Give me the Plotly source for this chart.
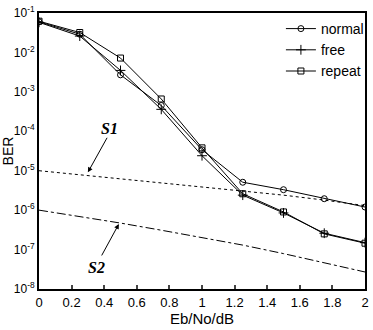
import plotly.graph_objects as go

x = [0, 0.25, 0.5, 0.75, 1.0, 1.25, 1.5, 1.75, 2.0]
normal = [6.0e-2, 2.9e-2, 2.7e-3, 4.5e-4, 3.4e-5, 5.1e-6, 3.3e-6, 1.95e-6, 1.2e-6]
free = [5.8e-2, 2.6e-2, 3.5e-3, 3.6e-4, 2.4e-5, 2.4e-6, 8.5e-7, 2.6e-7, 1.5e-7]
repeat = [6.2e-2, 3.2e-2, 7.2e-3, 6.6e-4, 3.8e-5, 2.6e-6, 9.0e-7, 2.5e-7, 1.45e-7]
s1 = [1.0e-5, 7.9e-6, 6.3e-6, 5.0e-6, 4.0e-6, 3.1e-6, 2.4e-6, 1.8e-6, 1.3e-6]
s2 = [1.0e-6, 6.9e-7, 4.7e-7, 3.1e-7, 2.0e-7, 1.3e-7, 7.9e-8, 4.7e-8, 2.7e-8]
ytick_vals = [1e-8, 1e-7, 1e-6, 1e-5, 1e-4, 1e-3, 1e-2, 1e-1]
ytick_text = ["10<sup>-8</sup>", "10<sup>-7</sup>", "10<sup>-6</sup>", "10<sup>-5</sup>",
              "10<sup>-4</sup>", "10<sup>-3</sup>", "10<sup>-2</sup>", "10<sup>-1</sup>"]
xtick_vals = [0, 0.2, 0.4, 0.6, 0.8, 1.0, 1.2, 1.4, 1.6, 1.8, 2.0]
xtick_text = ["0", "0.2", "0.4", "0.6", "0.8", "1", "1.2", "1.4", "1.6", "1.8", "2"]

fig = go.Figure()
fig.add_trace(go.Scatter(x=x, y=s1, mode="lines", showlegend=False,
                         line=dict(color="black", width=1, dash="dot")))
fig.add_trace(go.Scatter(x=x, y=s2, mode="lines", showlegend=False,
                         line=dict(color="black", width=1, dash="dashdot")))
fig.add_trace(go.Scatter(x=x, y=normal, name="normal", mode="lines+markers",
                         line=dict(color="black", width=1),
                         marker=dict(symbol="circle-open", size=6, color="black",
                                     line=dict(width=1, color="black"))))
fig.add_trace(go.Scatter(x=x, y=free, name="free", mode="lines+markers",
                         line=dict(color="black", width=1),
                         marker=dict(symbol="cross-thin", size=7, color="black",
                                     line=dict(width=1, color="black"))))
fig.add_trace(go.Scatter(x=x, y=repeat, name="repeat", mode="lines+markers",
                         line=dict(color="black", width=1),
                         marker=dict(symbol="square-open", size=6, color="black",
                                     line=dict(width=1, color="black"))))

fig.add_annotation(x=0.3, y=-5.04, xref="x", yref="y", text="", showarrow=True,
                   arrowhead=2, arrowsize=1, arrowwidth=1, arrowcolor="black",
                   ax=20, ay=-36)
fig.add_annotation(x=0.43, y=-3.92, xref="x", yref="y", text="<b><i>S1</i></b>",
                   showarrow=False, font=dict(family="Liberation Serif", size=16, color="black"))
fig.add_annotation(x=0.49, y=-6.35, xref="x", yref="y", text="", showarrow=True,
                   arrowhead=2, arrowsize=1, arrowwidth=1, arrowcolor="black",
                   ax=-18, ay=33)
fig.add_annotation(x=0.35, y=-7.45, xref="x", yref="y", text="<b><i>S2</i></b>",
                   showarrow=False, font=dict(family="Liberation Serif", size=16, color="black"))

fig.update_layout(
    width=373, height=330,
    margin=dict(l=37, r=4, t=12, b=41),
    paper_bgcolor="white", plot_bgcolor="white",
    font=dict(family="Liberation Sans, Arial", size=12, color="black"),
    legend=dict(x=1.012, y=1.0, xanchor="right", yanchor="top",
                bgcolor="rgba(0,0,0,0)", borderwidth=0,
                font=dict(size=14), tracegroupgap=0, itemwidth=30),
    xaxis=dict(range=[0, 2], tickvals=xtick_vals, ticktext=xtick_text,
               ticks="inside", ticklen=4, tickwidth=1.5, showgrid=False, zeroline=False,
               showline=True, linewidth=2, linecolor="black", mirror=True,
               tickfont=dict(size=13),
               title=dict(text="Eb/No/dB", font=dict(size=15), standoff=2)),
    yaxis=dict(type="log", range=[-8, -1], tickvals=ytick_vals, ticktext=ytick_text,
               ticks="", showgrid=False, zeroline=False,
               showline=True, linewidth=2, linecolor="black", mirror=True,
               tickfont=dict(size=12),
               title=dict(text="BER", font=dict(size=14), standoff=0)),
)

fig.write_html("out.html", config={"displayModeBar": False},
               post_script="document.body.style.margin='0';document.body.style.overflow='hidden';")
